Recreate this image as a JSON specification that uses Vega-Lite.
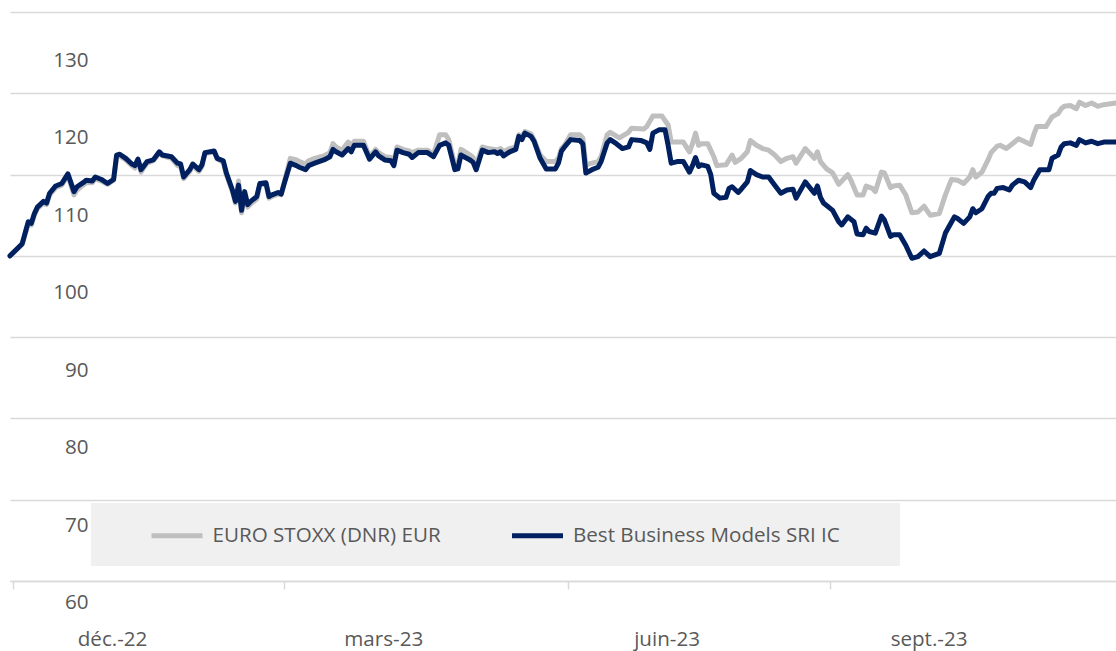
{
"$schema": "https://vega.github.io/schema/vega-lite/v6.json",
"width": 1106, "height": 569,
"autosize": {"type": "none"},
"padding": {"left": 10, "top": 12, "right": 0, "bottom": 70},
"background": "white",
"config": {"view": {"stroke": null}, "font": "Open Sans"},
"data": {"values": [
{"date":"2022-11-30","series":"EURO STOXX (DNR) EUR","value":100.0},
{"date":"2022-12-04","series":"EURO STOXX (DNR) EUR","value":101.4},
{"date":"2022-12-06","series":"EURO STOXX (DNR) EUR","value":104.0},
{"date":"2022-12-07","series":"EURO STOXX (DNR) EUR","value":103.8},
{"date":"2022-12-08","series":"EURO STOXX (DNR) EUR","value":105.0},
{"date":"2022-12-09","series":"EURO STOXX (DNR) EUR","value":105.8},
{"date":"2022-12-11","series":"EURO STOXX (DNR) EUR","value":106.5},
{"date":"2022-12-12","series":"EURO STOXX (DNR) EUR","value":106.3},
{"date":"2022-12-13","series":"EURO STOXX (DNR) EUR","value":107.5},
{"date":"2022-12-15","series":"EURO STOXX (DNR) EUR","value":108.4},
{"date":"2022-12-17","series":"EURO STOXX (DNR) EUR","value":108.7},
{"date":"2022-12-18","series":"EURO STOXX (DNR) EUR","value":109.3},
{"date":"2022-12-19","series":"EURO STOXX (DNR) EUR","value":109.9},
{"date":"2022-12-21","series":"EURO STOXX (DNR) EUR","value":107.5},
{"date":"2022-12-22","series":"EURO STOXX (DNR) EUR","value":108.1},
{"date":"2022-12-24","series":"EURO STOXX (DNR) EUR","value":108.7},
{"date":"2022-12-25","series":"EURO STOXX (DNR) EUR","value":109.0},
{"date":"2022-12-27","series":"EURO STOXX (DNR) EUR","value":109.0},
{"date":"2022-12-28","series":"EURO STOXX (DNR) EUR","value":109.5},
{"date":"2022-12-30","series":"EURO STOXX (DNR) EUR","value":109.2},
{"date":"2023-01-01","series":"EURO STOXX (DNR) EUR","value":108.8},
{"date":"2023-01-03","series":"EURO STOXX (DNR) EUR","value":109.3},
{"date":"2023-01-04","series":"EURO STOXX (DNR) EUR","value":112.2},
{"date":"2023-01-05","series":"EURO STOXX (DNR) EUR","value":112.3},
{"date":"2023-01-07","series":"EURO STOXX (DNR) EUR","value":111.8},
{"date":"2023-01-09","series":"EURO STOXX (DNR) EUR","value":111.1},
{"date":"2023-01-10","series":"EURO STOXX (DNR) EUR","value":110.8},
{"date":"2023-01-11","series":"EURO STOXX (DNR) EUR","value":111.7},
{"date":"2023-01-12","series":"EURO STOXX (DNR) EUR","value":110.3},
{"date":"2023-01-13","series":"EURO STOXX (DNR) EUR","value":110.9},
{"date":"2023-01-14","series":"EURO STOXX (DNR) EUR","value":111.4},
{"date":"2023-01-16","series":"EURO STOXX (DNR) EUR","value":111.7},
{"date":"2023-01-18","series":"EURO STOXX (DNR) EUR","value":112.6},
{"date":"2023-01-19","series":"EURO STOXX (DNR) EUR","value":112.3},
{"date":"2023-01-22","series":"EURO STOXX (DNR) EUR","value":112.0},
{"date":"2023-01-24","series":"EURO STOXX (DNR) EUR","value":111.1},
{"date":"2023-01-25","series":"EURO STOXX (DNR) EUR","value":111.0},
{"date":"2023-01-26","series":"EURO STOXX (DNR) EUR","value":109.5},
{"date":"2023-01-28","series":"EURO STOXX (DNR) EUR","value":110.4},
{"date":"2023-01-29","series":"EURO STOXX (DNR) EUR","value":111.1},
{"date":"2023-01-31","series":"EURO STOXX (DNR) EUR","value":110.4},
{"date":"2023-02-01","series":"EURO STOXX (DNR) EUR","value":111.0},
{"date":"2023-02-02","series":"EURO STOXX (DNR) EUR","value":112.6},
{"date":"2023-02-05","series":"EURO STOXX (DNR) EUR","value":112.8},
{"date":"2023-02-06","series":"EURO STOXX (DNR) EUR","value":111.9},
{"date":"2023-02-08","series":"EURO STOXX (DNR) EUR","value":111.5},
{"date":"2023-02-09","series":"EURO STOXX (DNR) EUR","value":110.0},
{"date":"2023-02-11","series":"EURO STOXX (DNR) EUR","value":107.9},
{"date":"2023-02-12","series":"EURO STOXX (DNR) EUR","value":106.5},
{"date":"2023-02-13","series":"EURO STOXX (DNR) EUR","value":109.2},
{"date":"2023-02-14","series":"EURO STOXX (DNR) EUR","value":105.3},
{"date":"2023-02-15","series":"EURO STOXX (DNR) EUR","value":107.6},
{"date":"2023-02-16","series":"EURO STOXX (DNR) EUR","value":106.0},
{"date":"2023-02-17","series":"EURO STOXX (DNR) EUR","value":106.4},
{"date":"2023-02-19","series":"EURO STOXX (DNR) EUR","value":107.0},
{"date":"2023-02-20","series":"EURO STOXX (DNR) EUR","value":108.7},
{"date":"2023-02-22","series":"EURO STOXX (DNR) EUR","value":108.9},
{"date":"2023-02-23","series":"EURO STOXX (DNR) EUR","value":107.1},
{"date":"2023-02-24","series":"EURO STOXX (DNR) EUR","value":107.3},
{"date":"2023-02-26","series":"EURO STOXX (DNR) EUR","value":107.6},
{"date":"2023-02-27","series":"EURO STOXX (DNR) EUR","value":107.5},
{"date":"2023-02-28","series":"EURO STOXX (DNR) EUR","value":109.0},
{"date":"2023-03-02","series":"EURO STOXX (DNR) EUR","value":112.0},
{"date":"2023-03-04","series":"EURO STOXX (DNR) EUR","value":111.8},
{"date":"2023-03-05","series":"EURO STOXX (DNR) EUR","value":111.6},
{"date":"2023-03-07","series":"EURO STOXX (DNR) EUR","value":111.3},
{"date":"2023-03-08","series":"EURO STOXX (DNR) EUR","value":111.7},
{"date":"2023-03-10","series":"EURO STOXX (DNR) EUR","value":112.0},
{"date":"2023-03-13","series":"EURO STOXX (DNR) EUR","value":112.3},
{"date":"2023-03-15","series":"EURO STOXX (DNR) EUR","value":112.7},
{"date":"2023-03-16","series":"EURO STOXX (DNR) EUR","value":113.8},
{"date":"2023-03-17","series":"EURO STOXX (DNR) EUR","value":113.4},
{"date":"2023-03-19","series":"EURO STOXX (DNR) EUR","value":113.0},
{"date":"2023-03-21","series":"EURO STOXX (DNR) EUR","value":114.0},
{"date":"2023-03-22","series":"EURO STOXX (DNR) EUR","value":113.5},
{"date":"2023-03-23","series":"EURO STOXX (DNR) EUR","value":114.1},
{"date":"2023-03-26","series":"EURO STOXX (DNR) EUR","value":114.1},
{"date":"2023-03-28","series":"EURO STOXX (DNR) EUR","value":112.2},
{"date":"2023-03-30","series":"EURO STOXX (DNR) EUR","value":113.1},
{"date":"2023-03-31","series":"EURO STOXX (DNR) EUR","value":112.7},
{"date":"2023-04-02","series":"EURO STOXX (DNR) EUR","value":112.2},
{"date":"2023-04-04","series":"EURO STOXX (DNR) EUR","value":112.1},
{"date":"2023-04-05","series":"EURO STOXX (DNR) EUR","value":111.6},
{"date":"2023-04-06","series":"EURO STOXX (DNR) EUR","value":113.4},
{"date":"2023-04-08","series":"EURO STOXX (DNR) EUR","value":113.1},
{"date":"2023-04-10","series":"EURO STOXX (DNR) EUR","value":112.9},
{"date":"2023-04-11","series":"EURO STOXX (DNR) EUR","value":112.7},
{"date":"2023-04-13","series":"EURO STOXX (DNR) EUR","value":113.0},
{"date":"2023-04-16","series":"EURO STOXX (DNR) EUR","value":113.0},
{"date":"2023-04-18","series":"EURO STOXX (DNR) EUR","value":112.5},
{"date":"2023-04-20","series":"EURO STOXX (DNR) EUR","value":114.9},
{"date":"2023-04-22","series":"EURO STOXX (DNR) EUR","value":114.9},
{"date":"2023-04-23","series":"EURO STOXX (DNR) EUR","value":114.3},
{"date":"2023-04-25","series":"EURO STOXX (DNR) EUR","value":111.1},
{"date":"2023-04-26","series":"EURO STOXX (DNR) EUR","value":111.2},
{"date":"2023-04-27","series":"EURO STOXX (DNR) EUR","value":113.1},
{"date":"2023-04-28","series":"EURO STOXX (DNR) EUR","value":112.9},
{"date":"2023-04-30","series":"EURO STOXX (DNR) EUR","value":112.4},
{"date":"2023-05-01","series":"EURO STOXX (DNR) EUR","value":112.1},
{"date":"2023-05-02","series":"EURO STOXX (DNR) EUR","value":110.9},
{"date":"2023-05-03","series":"EURO STOXX (DNR) EUR","value":112.3},
{"date":"2023-05-04","series":"EURO STOXX (DNR) EUR","value":113.4},
{"date":"2023-05-06","series":"EURO STOXX (DNR) EUR","value":113.2},
{"date":"2023-05-08","series":"EURO STOXX (DNR) EUR","value":113.1},
{"date":"2023-05-09","series":"EURO STOXX (DNR) EUR","value":113.0},
{"date":"2023-05-10","series":"EURO STOXX (DNR) EUR","value":113.2},
{"date":"2023-05-11","series":"EURO STOXX (DNR) EUR","value":112.8},
{"date":"2023-05-13","series":"EURO STOXX (DNR) EUR","value":113.2},
{"date":"2023-05-15","series":"EURO STOXX (DNR) EUR","value":113.4},
{"date":"2023-05-16","series":"EURO STOXX (DNR) EUR","value":114.9},
{"date":"2023-05-17","series":"EURO STOXX (DNR) EUR","value":114.6},
{"date":"2023-05-18","series":"EURO STOXX (DNR) EUR","value":115.3},
{"date":"2023-05-20","series":"EURO STOXX (DNR) EUR","value":115.0},
{"date":"2023-05-21","series":"EURO STOXX (DNR) EUR","value":114.3},
{"date":"2023-05-23","series":"EURO STOXX (DNR) EUR","value":112.4},
{"date":"2023-05-25","series":"EURO STOXX (DNR) EUR","value":111.6},
{"date":"2023-05-28","series":"EURO STOXX (DNR) EUR","value":111.6},
{"date":"2023-05-29","series":"EURO STOXX (DNR) EUR","value":112.0},
{"date":"2023-05-30","series":"EURO STOXX (DNR) EUR","value":113.2},
{"date":"2023-05-31","series":"EURO STOXX (DNR) EUR","value":113.6},
{"date":"2023-06-02","series":"EURO STOXX (DNR) EUR","value":114.9},
{"date":"2023-06-05","series":"EURO STOXX (DNR) EUR","value":114.9},
{"date":"2023-06-06","series":"EURO STOXX (DNR) EUR","value":114.5},
{"date":"2023-06-07","series":"EURO STOXX (DNR) EUR","value":111.2},
{"date":"2023-06-09","series":"EURO STOXX (DNR) EUR","value":111.4},
{"date":"2023-06-11","series":"EURO STOXX (DNR) EUR","value":111.6},
{"date":"2023-06-12","series":"EURO STOXX (DNR) EUR","value":112.2},
{"date":"2023-06-14","series":"EURO STOXX (DNR) EUR","value":114.9},
{"date":"2023-06-15","series":"EURO STOXX (DNR) EUR","value":115.2},
{"date":"2023-06-18","series":"EURO STOXX (DNR) EUR","value":114.5},
{"date":"2023-06-21","series":"EURO STOXX (DNR) EUR","value":115.2},
{"date":"2023-06-22","series":"EURO STOXX (DNR) EUR","value":115.7},
{"date":"2023-06-26","series":"EURO STOXX (DNR) EUR","value":115.6},
{"date":"2023-06-27","series":"EURO STOXX (DNR) EUR","value":115.9},
{"date":"2023-06-29","series":"EURO STOXX (DNR) EUR","value":117.2},
{"date":"2023-07-02","series":"EURO STOXX (DNR) EUR","value":117.2},
{"date":"2023-07-04","series":"EURO STOXX (DNR) EUR","value":116.1},
{"date":"2023-07-05","series":"EURO STOXX (DNR) EUR","value":114.0},
{"date":"2023-07-07","series":"EURO STOXX (DNR) EUR","value":114.0},
{"date":"2023-07-09","series":"EURO STOXX (DNR) EUR","value":114.0},
{"date":"2023-07-11","series":"EURO STOXX (DNR) EUR","value":112.8},
{"date":"2023-07-12","series":"EURO STOXX (DNR) EUR","value":113.8},
{"date":"2023-07-13","series":"EURO STOXX (DNR) EUR","value":115.1},
{"date":"2023-07-14","series":"EURO STOXX (DNR) EUR","value":113.6},
{"date":"2023-07-15","series":"EURO STOXX (DNR) EUR","value":113.8},
{"date":"2023-07-17","series":"EURO STOXX (DNR) EUR","value":113.8},
{"date":"2023-07-19","series":"EURO STOXX (DNR) EUR","value":112.2},
{"date":"2023-07-20","series":"EURO STOXX (DNR) EUR","value":111.1},
{"date":"2023-07-23","series":"EURO STOXX (DNR) EUR","value":111.2},
{"date":"2023-07-24","series":"EURO STOXX (DNR) EUR","value":111.8},
{"date":"2023-07-25","series":"EURO STOXX (DNR) EUR","value":112.4},
{"date":"2023-07-26","series":"EURO STOXX (DNR) EUR","value":111.5},
{"date":"2023-07-28","series":"EURO STOXX (DNR) EUR","value":112.0},
{"date":"2023-07-30","series":"EURO STOXX (DNR) EUR","value":112.8},
{"date":"2023-07-31","series":"EURO STOXX (DNR) EUR","value":114.2},
{"date":"2023-08-02","series":"EURO STOXX (DNR) EUR","value":113.6},
{"date":"2023-08-04","series":"EURO STOXX (DNR) EUR","value":113.2},
{"date":"2023-08-06","series":"EURO STOXX (DNR) EUR","value":113.0},
{"date":"2023-08-08","series":"EURO STOXX (DNR) EUR","value":112.4},
{"date":"2023-08-10","series":"EURO STOXX (DNR) EUR","value":111.6},
{"date":"2023-08-12","series":"EURO STOXX (DNR) EUR","value":112.0},
{"date":"2023-08-14","series":"EURO STOXX (DNR) EUR","value":112.2},
{"date":"2023-08-15","series":"EURO STOXX (DNR) EUR","value":111.4},
{"date":"2023-08-18","series":"EURO STOXX (DNR) EUR","value":113.2},
{"date":"2023-08-21","series":"EURO STOXX (DNR) EUR","value":112.0},
{"date":"2023-08-22","series":"EURO STOXX (DNR) EUR","value":112.8},
{"date":"2023-08-23","series":"EURO STOXX (DNR) EUR","value":111.6},
{"date":"2023-08-25","series":"EURO STOXX (DNR) EUR","value":110.7},
{"date":"2023-08-27","series":"EURO STOXX (DNR) EUR","value":110.2},
{"date":"2023-08-29","series":"EURO STOXX (DNR) EUR","value":108.8},
{"date":"2023-09-01","series":"EURO STOXX (DNR) EUR","value":110.0},
{"date":"2023-09-02","series":"EURO STOXX (DNR) EUR","value":109.3},
{"date":"2023-09-04","series":"EURO STOXX (DNR) EUR","value":107.5},
{"date":"2023-09-06","series":"EURO STOXX (DNR) EUR","value":107.5},
{"date":"2023-09-07","series":"EURO STOXX (DNR) EUR","value":108.6},
{"date":"2023-09-09","series":"EURO STOXX (DNR) EUR","value":108.3},
{"date":"2023-09-10","series":"EURO STOXX (DNR) EUR","value":107.9},
{"date":"2023-09-12","series":"EURO STOXX (DNR) EUR","value":110.3},
{"date":"2023-09-13","series":"EURO STOXX (DNR) EUR","value":110.2},
{"date":"2023-09-15","series":"EURO STOXX (DNR) EUR","value":108.4},
{"date":"2023-09-16","series":"EURO STOXX (DNR) EUR","value":108.6},
{"date":"2023-09-18","series":"EURO STOXX (DNR) EUR","value":108.7},
{"date":"2023-09-20","series":"EURO STOXX (DNR) EUR","value":107.5},
{"date":"2023-09-22","series":"EURO STOXX (DNR) EUR","value":105.3},
{"date":"2023-09-24","series":"EURO STOXX (DNR) EUR","value":105.4},
{"date":"2023-09-26","series":"EURO STOXX (DNR) EUR","value":106.1},
{"date":"2023-09-28","series":"EURO STOXX (DNR) EUR","value":105.0},
{"date":"2023-10-01","series":"EURO STOXX (DNR) EUR","value":105.2},
{"date":"2023-10-03","series":"EURO STOXX (DNR) EUR","value":107.5},
{"date":"2023-10-05","series":"EURO STOXX (DNR) EUR","value":109.4},
{"date":"2023-10-07","series":"EURO STOXX (DNR) EUR","value":109.3},
{"date":"2023-10-09","series":"EURO STOXX (DNR) EUR","value":108.9},
{"date":"2023-10-11","series":"EURO STOXX (DNR) EUR","value":109.7},
{"date":"2023-10-12","series":"EURO STOXX (DNR) EUR","value":110.6},
{"date":"2023-10-13","series":"EURO STOXX (DNR) EUR","value":109.7},
{"date":"2023-10-15","series":"EURO STOXX (DNR) EUR","value":110.3},
{"date":"2023-10-17","series":"EURO STOXX (DNR) EUR","value":111.8},
{"date":"2023-10-18","series":"EURO STOXX (DNR) EUR","value":112.7},
{"date":"2023-10-20","series":"EURO STOXX (DNR) EUR","value":113.5},
{"date":"2023-10-21","series":"EURO STOXX (DNR) EUR","value":113.6},
{"date":"2023-10-23","series":"EURO STOXX (DNR) EUR","value":113.2},
{"date":"2023-10-25","series":"EURO STOXX (DNR) EUR","value":113.8},
{"date":"2023-10-27","series":"EURO STOXX (DNR) EUR","value":114.4},
{"date":"2023-10-31","series":"EURO STOXX (DNR) EUR","value":113.7},
{"date":"2023-11-01","series":"EURO STOXX (DNR) EUR","value":114.9},
{"date":"2023-11-02","series":"EURO STOXX (DNR) EUR","value":115.9},
{"date":"2023-11-05","series":"EURO STOXX (DNR) EUR","value":115.9},
{"date":"2023-11-06","series":"EURO STOXX (DNR) EUR","value":116.5},
{"date":"2023-11-07","series":"EURO STOXX (DNR) EUR","value":117.1},
{"date":"2023-11-09","series":"EURO STOXX (DNR) EUR","value":117.5},
{"date":"2023-11-10","series":"EURO STOXX (DNR) EUR","value":118.1},
{"date":"2023-11-11","series":"EURO STOXX (DNR) EUR","value":118.4},
{"date":"2023-11-13","series":"EURO STOXX (DNR) EUR","value":118.5},
{"date":"2023-11-15","series":"EURO STOXX (DNR) EUR","value":118.1},
{"date":"2023-11-16","series":"EURO STOXX (DNR) EUR","value":118.9},
{"date":"2023-11-18","series":"EURO STOXX (DNR) EUR","value":118.5},
{"date":"2023-11-20","series":"EURO STOXX (DNR) EUR","value":118.8},
{"date":"2023-11-22","series":"EURO STOXX (DNR) EUR","value":118.4},
{"date":"2023-11-24","series":"EURO STOXX (DNR) EUR","value":118.6},
{"date":"2023-11-28","series":"EURO STOXX (DNR) EUR","value":118.8},
{"date":"2022-11-30","series":"Best Business Models SRI IC","value":100.0},
{"date":"2022-12-04","series":"Best Business Models SRI IC","value":101.5},
{"date":"2022-12-06","series":"Best Business Models SRI IC","value":104.2},
{"date":"2022-12-07","series":"Best Business Models SRI IC","value":104.0},
{"date":"2022-12-08","series":"Best Business Models SRI IC","value":105.2},
{"date":"2022-12-09","series":"Best Business Models SRI IC","value":106.0},
{"date":"2022-12-11","series":"Best Business Models SRI IC","value":106.7},
{"date":"2022-12-12","series":"Best Business Models SRI IC","value":106.5},
{"date":"2022-12-13","series":"Best Business Models SRI IC","value":107.7},
{"date":"2022-12-15","series":"Best Business Models SRI IC","value":108.6},
{"date":"2022-12-17","series":"Best Business Models SRI IC","value":108.9},
{"date":"2022-12-18","series":"Best Business Models SRI IC","value":109.5},
{"date":"2022-12-19","series":"Best Business Models SRI IC","value":110.1},
{"date":"2022-12-21","series":"Best Business Models SRI IC","value":107.9},
{"date":"2022-12-22","series":"Best Business Models SRI IC","value":108.5},
{"date":"2022-12-24","series":"Best Business Models SRI IC","value":109.0},
{"date":"2022-12-25","series":"Best Business Models SRI IC","value":109.3},
{"date":"2022-12-27","series":"Best Business Models SRI IC","value":109.2},
{"date":"2022-12-28","series":"Best Business Models SRI IC","value":109.7},
{"date":"2022-12-30","series":"Best Business Models SRI IC","value":109.4},
{"date":"2023-01-01","series":"Best Business Models SRI IC","value":108.9},
{"date":"2023-01-03","series":"Best Business Models SRI IC","value":109.4},
{"date":"2023-01-04","series":"Best Business Models SRI IC","value":112.4},
{"date":"2023-01-05","series":"Best Business Models SRI IC","value":112.5},
{"date":"2023-01-07","series":"Best Business Models SRI IC","value":112.0},
{"date":"2023-01-09","series":"Best Business Models SRI IC","value":111.3},
{"date":"2023-01-10","series":"Best Business Models SRI IC","value":111.1},
{"date":"2023-01-11","series":"Best Business Models SRI IC","value":111.9},
{"date":"2023-01-12","series":"Best Business Models SRI IC","value":110.6},
{"date":"2023-01-13","series":"Best Business Models SRI IC","value":111.1},
{"date":"2023-01-14","series":"Best Business Models SRI IC","value":111.6},
{"date":"2023-01-16","series":"Best Business Models SRI IC","value":111.8},
{"date":"2023-01-18","series":"Best Business Models SRI IC","value":112.8},
{"date":"2023-01-19","series":"Best Business Models SRI IC","value":112.4},
{"date":"2023-01-22","series":"Best Business Models SRI IC","value":112.2},
{"date":"2023-01-24","series":"Best Business Models SRI IC","value":111.4},
{"date":"2023-01-25","series":"Best Business Models SRI IC","value":111.3},
{"date":"2023-01-26","series":"Best Business Models SRI IC","value":109.7},
{"date":"2023-01-28","series":"Best Business Models SRI IC","value":110.6},
{"date":"2023-01-29","series":"Best Business Models SRI IC","value":111.3},
{"date":"2023-01-31","series":"Best Business Models SRI IC","value":110.6},
{"date":"2023-02-01","series":"Best Business Models SRI IC","value":111.2},
{"date":"2023-02-02","series":"Best Business Models SRI IC","value":112.7},
{"date":"2023-02-05","series":"Best Business Models SRI IC","value":112.9},
{"date":"2023-02-06","series":"Best Business Models SRI IC","value":112.0},
{"date":"2023-02-08","series":"Best Business Models SRI IC","value":111.7},
{"date":"2023-02-09","series":"Best Business Models SRI IC","value":110.2},
{"date":"2023-02-11","series":"Best Business Models SRI IC","value":108.1},
{"date":"2023-02-12","series":"Best Business Models SRI IC","value":106.7},
{"date":"2023-02-13","series":"Best Business Models SRI IC","value":108.7},
{"date":"2023-02-14","series":"Best Business Models SRI IC","value":105.6},
{"date":"2023-02-15","series":"Best Business Models SRI IC","value":107.9},
{"date":"2023-02-16","series":"Best Business Models SRI IC","value":106.3},
{"date":"2023-02-17","series":"Best Business Models SRI IC","value":106.7},
{"date":"2023-02-19","series":"Best Business Models SRI IC","value":107.3},
{"date":"2023-02-20","series":"Best Business Models SRI IC","value":108.9},
{"date":"2023-02-22","series":"Best Business Models SRI IC","value":109.0},
{"date":"2023-02-23","series":"Best Business Models SRI IC","value":107.3},
{"date":"2023-02-24","series":"Best Business Models SRI IC","value":107.5},
{"date":"2023-02-26","series":"Best Business Models SRI IC","value":107.8},
{"date":"2023-02-27","series":"Best Business Models SRI IC","value":107.6},
{"date":"2023-02-28","series":"Best Business Models SRI IC","value":108.9},
{"date":"2023-03-02","series":"Best Business Models SRI IC","value":111.4},
{"date":"2023-03-04","series":"Best Business Models SRI IC","value":111.1},
{"date":"2023-03-05","series":"Best Business Models SRI IC","value":110.9},
{"date":"2023-03-07","series":"Best Business Models SRI IC","value":110.6},
{"date":"2023-03-08","series":"Best Business Models SRI IC","value":111.1},
{"date":"2023-03-10","series":"Best Business Models SRI IC","value":111.4},
{"date":"2023-03-13","series":"Best Business Models SRI IC","value":111.8},
{"date":"2023-03-15","series":"Best Business Models SRI IC","value":112.2},
{"date":"2023-03-16","series":"Best Business Models SRI IC","value":113.1},
{"date":"2023-03-17","series":"Best Business Models SRI IC","value":112.8},
{"date":"2023-03-19","series":"Best Business Models SRI IC","value":112.4},
{"date":"2023-03-21","series":"Best Business Models SRI IC","value":113.2},
{"date":"2023-03-22","series":"Best Business Models SRI IC","value":112.8},
{"date":"2023-03-23","series":"Best Business Models SRI IC","value":113.6},
{"date":"2023-03-26","series":"Best Business Models SRI IC","value":113.6},
{"date":"2023-03-28","series":"Best Business Models SRI IC","value":111.9},
{"date":"2023-03-30","series":"Best Business Models SRI IC","value":112.8},
{"date":"2023-03-31","series":"Best Business Models SRI IC","value":112.3},
{"date":"2023-04-02","series":"Best Business Models SRI IC","value":111.8},
{"date":"2023-04-04","series":"Best Business Models SRI IC","value":111.7},
{"date":"2023-04-05","series":"Best Business Models SRI IC","value":111.1},
{"date":"2023-04-06","series":"Best Business Models SRI IC","value":113.0},
{"date":"2023-04-08","series":"Best Business Models SRI IC","value":112.7},
{"date":"2023-04-10","series":"Best Business Models SRI IC","value":112.5},
{"date":"2023-04-11","series":"Best Business Models SRI IC","value":112.1},
{"date":"2023-04-13","series":"Best Business Models SRI IC","value":112.7},
{"date":"2023-04-16","series":"Best Business Models SRI IC","value":112.7},
{"date":"2023-04-18","series":"Best Business Models SRI IC","value":112.2},
{"date":"2023-04-20","series":"Best Business Models SRI IC","value":113.6},
{"date":"2023-04-22","series":"Best Business Models SRI IC","value":113.9},
{"date":"2023-04-23","series":"Best Business Models SRI IC","value":113.6},
{"date":"2023-04-25","series":"Best Business Models SRI IC","value":110.6},
{"date":"2023-04-26","series":"Best Business Models SRI IC","value":110.7},
{"date":"2023-04-27","series":"Best Business Models SRI IC","value":112.4},
{"date":"2023-04-28","series":"Best Business Models SRI IC","value":112.2},
{"date":"2023-04-30","series":"Best Business Models SRI IC","value":111.8},
{"date":"2023-05-01","series":"Best Business Models SRI IC","value":111.5},
{"date":"2023-05-02","series":"Best Business Models SRI IC","value":110.6},
{"date":"2023-05-03","series":"Best Business Models SRI IC","value":111.8},
{"date":"2023-05-04","series":"Best Business Models SRI IC","value":113.0},
{"date":"2023-05-06","series":"Best Business Models SRI IC","value":112.7},
{"date":"2023-05-08","series":"Best Business Models SRI IC","value":112.8},
{"date":"2023-05-09","series":"Best Business Models SRI IC","value":112.6},
{"date":"2023-05-10","series":"Best Business Models SRI IC","value":112.8},
{"date":"2023-05-11","series":"Best Business Models SRI IC","value":112.3},
{"date":"2023-05-13","series":"Best Business Models SRI IC","value":112.8},
{"date":"2023-05-15","series":"Best Business Models SRI IC","value":113.1},
{"date":"2023-05-16","series":"Best Business Models SRI IC","value":114.7},
{"date":"2023-05-17","series":"Best Business Models SRI IC","value":114.3},
{"date":"2023-05-18","series":"Best Business Models SRI IC","value":115.1},
{"date":"2023-05-20","series":"Best Business Models SRI IC","value":114.7},
{"date":"2023-05-21","series":"Best Business Models SRI IC","value":114.1},
{"date":"2023-05-23","series":"Best Business Models SRI IC","value":112.0},
{"date":"2023-05-25","series":"Best Business Models SRI IC","value":110.7},
{"date":"2023-05-28","series":"Best Business Models SRI IC","value":110.7},
{"date":"2023-05-29","series":"Best Business Models SRI IC","value":111.4},
{"date":"2023-05-30","series":"Best Business Models SRI IC","value":112.9},
{"date":"2023-05-31","series":"Best Business Models SRI IC","value":113.4},
{"date":"2023-06-02","series":"Best Business Models SRI IC","value":114.3},
{"date":"2023-06-05","series":"Best Business Models SRI IC","value":114.2},
{"date":"2023-06-06","series":"Best Business Models SRI IC","value":113.8},
{"date":"2023-06-07","series":"Best Business Models SRI IC","value":110.2},
{"date":"2023-06-09","series":"Best Business Models SRI IC","value":110.6},
{"date":"2023-06-11","series":"Best Business Models SRI IC","value":110.9},
{"date":"2023-06-12","series":"Best Business Models SRI IC","value":111.6},
{"date":"2023-06-14","series":"Best Business Models SRI IC","value":113.9},
{"date":"2023-06-15","series":"Best Business Models SRI IC","value":114.3},
{"date":"2023-06-17","series":"Best Business Models SRI IC","value":113.8},
{"date":"2023-06-19","series":"Best Business Models SRI IC","value":113.2},
{"date":"2023-06-21","series":"Best Business Models SRI IC","value":113.4},
{"date":"2023-06-22","series":"Best Business Models SRI IC","value":114.3},
{"date":"2023-06-25","series":"Best Business Models SRI IC","value":114.2},
{"date":"2023-06-27","series":"Best Business Models SRI IC","value":113.9},
{"date":"2023-06-28","series":"Best Business Models SRI IC","value":113.1},
{"date":"2023-06-29","series":"Best Business Models SRI IC","value":115.1},
{"date":"2023-07-01","series":"Best Business Models SRI IC","value":115.5},
{"date":"2023-07-03","series":"Best Business Models SRI IC","value":115.5},
{"date":"2023-07-04","series":"Best Business Models SRI IC","value":113.6},
{"date":"2023-07-05","series":"Best Business Models SRI IC","value":111.4},
{"date":"2023-07-07","series":"Best Business Models SRI IC","value":111.6},
{"date":"2023-07-09","series":"Best Business Models SRI IC","value":111.6},
{"date":"2023-07-11","series":"Best Business Models SRI IC","value":110.3},
{"date":"2023-07-12","series":"Best Business Models SRI IC","value":111.1},
{"date":"2023-07-13","series":"Best Business Models SRI IC","value":112.1},
{"date":"2023-07-14","series":"Best Business Models SRI IC","value":111.0},
{"date":"2023-07-15","series":"Best Business Models SRI IC","value":111.2},
{"date":"2023-07-17","series":"Best Business Models SRI IC","value":111.0},
{"date":"2023-07-18","series":"Best Business Models SRI IC","value":110.0},
{"date":"2023-07-19","series":"Best Business Models SRI IC","value":107.7},
{"date":"2023-07-21","series":"Best Business Models SRI IC","value":107.1},
{"date":"2023-07-23","series":"Best Business Models SRI IC","value":107.2},
{"date":"2023-07-24","series":"Best Business Models SRI IC","value":108.3},
{"date":"2023-07-25","series":"Best Business Models SRI IC","value":108.5},
{"date":"2023-07-27","series":"Best Business Models SRI IC","value":107.8},
{"date":"2023-07-28","series":"Best Business Models SRI IC","value":108.2},
{"date":"2023-07-30","series":"Best Business Models SRI IC","value":109.1},
{"date":"2023-07-31","series":"Best Business Models SRI IC","value":110.5},
{"date":"2023-08-02","series":"Best Business Models SRI IC","value":110.0},
{"date":"2023-08-04","series":"Best Business Models SRI IC","value":109.7},
{"date":"2023-08-06","series":"Best Business Models SRI IC","value":109.7},
{"date":"2023-08-08","series":"Best Business Models SRI IC","value":108.7},
{"date":"2023-08-10","series":"Best Business Models SRI IC","value":107.7},
{"date":"2023-08-12","series":"Best Business Models SRI IC","value":108.1},
{"date":"2023-08-14","series":"Best Business Models SRI IC","value":108.2},
{"date":"2023-08-15","series":"Best Business Models SRI IC","value":107.1},
{"date":"2023-08-18","series":"Best Business Models SRI IC","value":109.1},
{"date":"2023-08-21","series":"Best Business Models SRI IC","value":107.7},
{"date":"2023-08-22","series":"Best Business Models SRI IC","value":108.6},
{"date":"2023-08-23","series":"Best Business Models SRI IC","value":107.2},
{"date":"2023-08-24","series":"Best Business Models SRI IC","value":106.5},
{"date":"2023-08-27","series":"Best Business Models SRI IC","value":105.6},
{"date":"2023-08-29","series":"Best Business Models SRI IC","value":104.2},
{"date":"2023-08-30","series":"Best Business Models SRI IC","value":103.8},
{"date":"2023-09-01","series":"Best Business Models SRI IC","value":104.8},
{"date":"2023-09-03","series":"Best Business Models SRI IC","value":104.2},
{"date":"2023-09-04","series":"Best Business Models SRI IC","value":102.7},
{"date":"2023-09-06","series":"Best Business Models SRI IC","value":102.6},
{"date":"2023-09-07","series":"Best Business Models SRI IC","value":103.4},
{"date":"2023-09-08","series":"Best Business Models SRI IC","value":103.0},
{"date":"2023-09-10","series":"Best Business Models SRI IC","value":102.8},
{"date":"2023-09-12","series":"Best Business Models SRI IC","value":104.9},
{"date":"2023-09-13","series":"Best Business Models SRI IC","value":104.4},
{"date":"2023-09-15","series":"Best Business Models SRI IC","value":102.4},
{"date":"2023-09-16","series":"Best Business Models SRI IC","value":102.6},
{"date":"2023-09-18","series":"Best Business Models SRI IC","value":102.6},
{"date":"2023-09-20","series":"Best Business Models SRI IC","value":101.3},
{"date":"2023-09-22","series":"Best Business Models SRI IC","value":99.7},
{"date":"2023-09-24","series":"Best Business Models SRI IC","value":99.9},
{"date":"2023-09-26","series":"Best Business Models SRI IC","value":100.6},
{"date":"2023-09-28","series":"Best Business Models SRI IC","value":99.9},
{"date":"2023-10-01","series":"Best Business Models SRI IC","value":100.3},
{"date":"2023-10-03","series":"Best Business Models SRI IC","value":102.8},
{"date":"2023-10-06","series":"Best Business Models SRI IC","value":104.8},
{"date":"2023-10-07","series":"Best Business Models SRI IC","value":104.6},
{"date":"2023-10-09","series":"Best Business Models SRI IC","value":104.0},
{"date":"2023-10-11","series":"Best Business Models SRI IC","value":104.8},
{"date":"2023-10-12","series":"Best Business Models SRI IC","value":105.8},
{"date":"2023-10-13","series":"Best Business Models SRI IC","value":105.3},
{"date":"2023-10-15","series":"Best Business Models SRI IC","value":105.8},
{"date":"2023-10-17","series":"Best Business Models SRI IC","value":107.3},
{"date":"2023-10-18","series":"Best Business Models SRI IC","value":107.7},
{"date":"2023-10-19","series":"Best Business Models SRI IC","value":107.7},
{"date":"2023-10-20","series":"Best Business Models SRI IC","value":108.3},
{"date":"2023-10-22","series":"Best Business Models SRI IC","value":108.4},
{"date":"2023-10-24","series":"Best Business Models SRI IC","value":108.1},
{"date":"2023-10-25","series":"Best Business Models SRI IC","value":108.7},
{"date":"2023-10-27","series":"Best Business Models SRI IC","value":109.3},
{"date":"2023-10-29","series":"Best Business Models SRI IC","value":109.1},
{"date":"2023-10-31","series":"Best Business Models SRI IC","value":108.4},
{"date":"2023-11-01","series":"Best Business Models SRI IC","value":109.3},
{"date":"2023-11-03","series":"Best Business Models SRI IC","value":110.6},
{"date":"2023-11-06","series":"Best Business Models SRI IC","value":110.6},
{"date":"2023-11-07","series":"Best Business Models SRI IC","value":112.0},
{"date":"2023-11-09","series":"Best Business Models SRI IC","value":112.4},
{"date":"2023-11-10","series":"Best Business Models SRI IC","value":113.4},
{"date":"2023-11-11","series":"Best Business Models SRI IC","value":113.8},
{"date":"2023-11-13","series":"Best Business Models SRI IC","value":113.9},
{"date":"2023-11-15","series":"Best Business Models SRI IC","value":113.6},
{"date":"2023-11-16","series":"Best Business Models SRI IC","value":114.3},
{"date":"2023-11-18","series":"Best Business Models SRI IC","value":113.9},
{"date":"2023-11-20","series":"Best Business Models SRI IC","value":114.1},
{"date":"2023-11-22","series":"Best Business Models SRI IC","value":113.8},
{"date":"2023-11-24","series":"Best Business Models SRI IC","value":114.0},
{"date":"2023-11-28","series":"Best Business Models SRI IC","value":114.0}
]},
"mark": {"type": "line", "strokeWidth": 5, "strokeJoin": "round", "strokeCap": "round"},
"encoding": {
  "x": {"field": "date", "type": "temporal",
    "scale": {"type": "utc", "domain": [{"year": 2022, "month": 11, "date": 30, "utc": true}, {"year": 2023, "month": 11, "date": 28, "utc": true}]},
    "axis": {"title": null, "grid": false,
      "values": [{"year": 2022, "month": 12, "date": 1, "utc": true}, {"year": 2023, "month": 2, "date": 28, "utc": true}, {"year": 2023, "month": 6, "date": 1, "utc": true}, {"year": 2023, "month": 8, "date": 26, "utc": true}],
      "labelExpr": "utcmonth(datum.value) == 11 ? 'déc.-22' : (utcmonth(datum.value) < 3 ? 'mars-23' : (utcmonth(datum.value) < 6 ? 'juin-23' : 'sept.-23'))",
      "domain": true, "domainColor": "#d9d9d9", "domainWidth": 1.5,
      "ticks": true, "tickColor": "#d9d9d9", "tickWidth": 1.5, "tickSize": 8,
      "labelOffset": 99, "labelFlush": false, "labelPadding": 56, "labelBaseline": "alphabetic", "labelAlign": "center",
      "labelFont": "Open Sans", "labelFontSize": 20.6, "labelColor": "#595959", "labelOverlap": false}},
  "y": {"field": "value", "type": "quantitative",
    "scale": {"domain": [60, 130], "zero": false, "nice": false},
    "axis": {"title": null, "values": [60, 70, 80, 90, 100, 110, 120, 130],
      "grid": true, "gridColor": "#d9d9d9", "gridWidth": 1.5,
      "domain": false, "ticks": false, "tickSize": 0, "labelPadding": -78, "labelAlign": "right",
      "labelFont": "Open Sans", "labelFontSize": 20.6, "labelColor": "#595959", "labelOverlap": false,
      "labelOffset": {"expr": "21.7 + 0.38 * (datum.value - 60)"}}},
  "color": {"field": "series", "type": "nominal",
    "scale": {"domain": ["EURO STOXX (DNR) EUR", "Best Business Models SRI IC"], "range": ["#BFBFBF", "#002060"]},
    "legend": {"orient": "none", "legendX": 81, "legendY": 491, "direction": "horizontal",
      "title": " ", "titleOrient": "right", "titleFontSize": 1, "titlePadding": 41,
      "fillColor": "#f0f0f0", "padding": 19.5,
      "symbolType": "M-2.5,0H2.5", "symbolSize": 416, "symbolStrokeWidth": 5, "symbolOffset": 53.5,
      "labelFont": "Open Sans", "labelFontSize": 20.6, "labelColor": "#595959", "labelLimit": 500,
      "labelOffset": 22.5, "columnPadding": 29.5}}
}
}
